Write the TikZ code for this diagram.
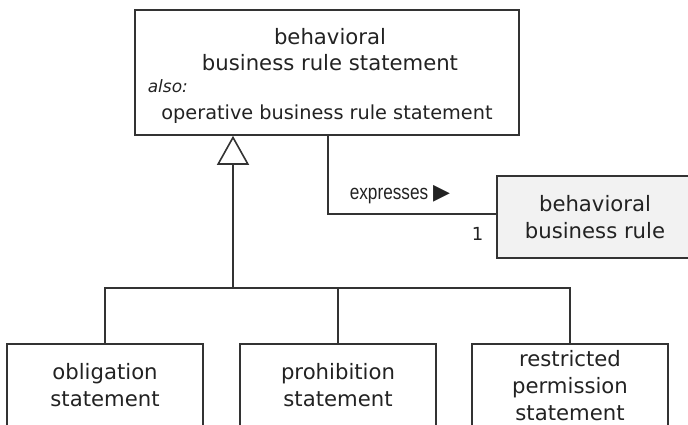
\documentclass[tikz,border=0pt]{standalone}
\usepackage{fontspec}
\setmainfont{DejaVu Sans}
\newfontfamily\narrowsf{Liberation Sans}[FakeStretch=0.82]
\usepackage{xcolor}
\usepackage{tikz}
\usetikzlibrary{positioning,calc,arrows.meta}
\definecolor{linec}{HTML}{333333}
\definecolor{textc}{HTML}{222222}
\definecolor{rulec}{HTML}{F2F2F2}

\begin{document}
\begin{tikzpicture}[x=1pt, y=-1pt, line width=1.6pt, color=linec,
    box/.style={draw, rectangle, inner sep=0pt, align=center, text=textc,
                font=\fontsize{21.2}{27}\selectfont},
    lbl/.style={inner sep=0pt, text=textc},
    gen/.style={-{Triangle[open, length=29pt, width=32pt, fill=white]}}]
  \useasboundingbox (0,0) rectangle (688,424);
  \clip (0,0) rectangle (688,424);
  \node[box, minimum width=384pt, minimum height=125pt] (stmt) at (327,72.5) {};
  \node[lbl, align=center, font=\fontsize{21.2}{26}\selectfont] (stmtname) at (330,50)
       {behavioral\\business rule statement};
  \node[lbl, anchor=base west, font=\fontsize{17}{20}\selectfont\itshape] (also) at (147,92) {also:};
  \node[lbl, anchor=base, font=\fontsize{19.3}{23}\selectfont] (opname) at (327,119)
       {operative business rule statement};
  \node[box, fill=rulec, minimum width=196pt, minimum height=82pt] (rule) at (595,217)
       {behavioral\\business rule};
  \node[box, minimum width=196pt, minimum height=83pt] (oblig) at (105,385.5) {obligation\\statement};
  \node[box, minimum width=196pt, minimum height=83pt] (prohib) at (338,385.5) {prohibition\\statement};
  \node[box, minimum width=196pt, minimum height=83pt] (restr) at (570,385.5)
       {restricted\\permission\\statement};
  \coordinate (fork) at (233,288);
  \coordinate (bend) at (328,214);
  \draw (oblig.north) |- (fork) -| (restr.north);
  \draw (prohib.north) -- (prohib.north |- fork);
  \draw[gen] (fork) -- (fork |- stmt.south);
  \draw (bend |- stmt.south) -- (bend) -- (bend -| rule.west);
  \node[lbl, anchor=base west, font=\narrowsf\fontsize{21}{24}\selectfont] (expr) at (349,199)
       {expresses {\rmfamily\fontsize{22}{22}\selectfont ▶}};
  \node[lbl, anchor=base east, font=\fontsize{18}{20}\selectfont] (mult) at (484,240) {1};
\end{tikzpicture}
\end{document}
